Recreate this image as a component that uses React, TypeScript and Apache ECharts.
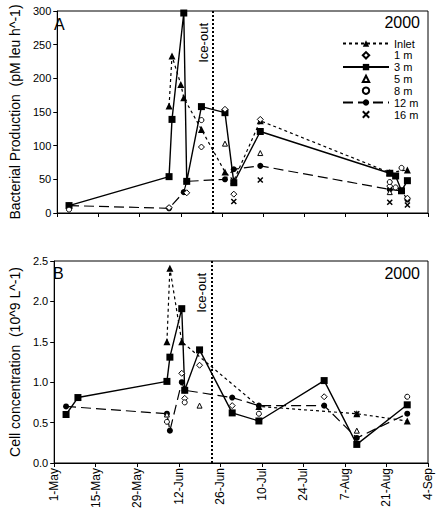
import React, { useEffect, useRef } from "react";
import * as echarts from "echarts";

// ---------- data ----------
const xTickLabels = ["1-May", "15-May", "29-May", "12-Jun", "26-Jun", "10-Jul", "24-Jul", "7-Aug", "21-Aug", "4-Sep"];
const iceOutDate = "06-23";
const yearLabel = "2000";

// Panel A: Bacterial production (pM leu h^-1)
const inletA: [string, number][] = [["06-08", 159], ["06-09", 233], ["06-12", 191], ["06-13", 171], ["06-19", 124], ["06-27", 61], ["06-30", 48], ["07-09", 137], ["08-22", 60], ["08-28", 64]];
const m1A: [string, number][] = [["06-08", 8], ["06-14", 30], ["06-19", 98], ["06-27", 154], ["06-30", 28], ["07-09", 139], ["08-22", 40], ["08-28", 22]];
const m3A: [string, number][] = [["05-05", 11], ["06-08", 54], ["06-09", 139], ["06-13", 297], ["06-14", 47], ["06-19", 158], ["06-27", 149], ["06-30", 45], ["07-09", 121], ["08-22", 59], ["08-24", 55], ["08-26", 33], ["08-28", 48]];
const m5A: [string, number][] = [["06-27", 103], ["07-09", 89], ["08-22", 31]];
const m8A: [string, number][] = [["05-05", 5], ["06-19", 138], ["08-22", 46], ["08-24", 38], ["08-26", 67]];
const m12A: [string, number][] = [["05-05", 11], ["06-08", 7], ["06-13", 31], ["06-14", 47], ["06-27", 50], ["06-30", 65], ["07-09", 70], ["08-22", 35], ["08-26", 33], ["08-28", 20]];
const m16A: [string, number][] = [["06-30", 17], ["07-09", 49], ["08-22", 16], ["08-28", 12]];

// Panel B: Cell concentration (10^9 L^-1)
const inletB: [string, number][] = [["06-08", 1.5], ["06-09", 2.41], ["06-13", 1.5], ["07-09", 0.7], ["08-11", 0.61], ["08-28", 0.52]];
const m1B: [string, number][] = [["06-13", 1.11], ["06-14", 0.8], ["06-19", 1.21], ["06-30", 0.71], ["07-31", 0.82]];
const m3B: [string, number][] = [["05-05", 0.6], ["05-09", 0.81], ["06-08", 1.01], ["06-09", 1.31], ["06-13", 1.91], ["06-14", 0.9], ["06-19", 1.4], ["06-30", 0.62], ["07-09", 0.52], ["07-31", 1.02], ["08-11", 0.23], ["08-28", 0.72]];
const m5B: [string, number][] = [["06-08", 0.6], ["06-19", 0.71], ["08-11", 0.4]];
const m8B: [string, number][] = [["06-08", 0.51], ["06-14", 0.75], ["07-09", 0.61], ["08-28", 0.82]];
const m12B: [string, number][] = [["05-05", 0.7], ["06-08", 0.61], ["06-09", 0.4], ["06-13", 1.0], ["06-14", 0.9], ["06-30", 0.81], ["07-09", 0.71], ["07-31", 0.71], ["08-11", 0.31], ["08-28", 0.61]];
const m16B: [string, number][] = [["08-11", 0.61]];

const seriesNames = ["Inlet", "1 m", "3 m", "5 m", "8 m", "12 m", "16 m"];

// ---------- helpers ----------
const dayOf = (md: string) => {
  const [m, d] = md.split("-").map(Number);
  return (Date.UTC(2000, m - 1, d) - Date.UTC(2000, 4, 1)) / 864e5;
};
const toData = (arr: [string, number][]) => arr.map(([d, v]) => [dayOf(d), v]);

const FONT = "'Liberation Sans', Arial, Helvetica, sans-serif";
const BLACK = "#000";
const CROSS = "path://M0,0L10,10M10,0L0,10";

function buildSeries(grid: number, sets: [string, number][][]) {
  const [inlet, m1, m3, m5, m8, m12, m16] = sets;
  const base = { xAxisIndex: grid, yAxisIndex: grid, animation: false, type: "line", showAllSymbol: true };
  const open = { color: "#fff", borderColor: BLACK, borderWidth: 1 };
  // marker-only series: a line series whose connecting line is hidden
  const noLine = { color: BLACK, width: 0, opacity: 0 };
  return [
    {
      ...base, name: "Inlet", data: toData(inlet), symbol: "triangle", symbolSize: 7,
      itemStyle: { color: BLACK }, lineStyle: { color: BLACK, width: 1.2, type: [3, 3] }, z: 3,
    },
    {
      ...base, name: "3 m", data: toData(m3), symbol: "rect", symbolSize: 7,
      itemStyle: { color: BLACK }, lineStyle: { color: BLACK, width: 1.4, type: "solid" }, z: 4,
      markLine: {
        silent: true, symbol: ["none", "none"], animation: false,
        lineStyle: { type: [2, 2], color: BLACK, width: 2 },
        label: {
          show: true, formatter: "Ice-out", position: "insideEndTop", fontSize: 13, color: BLACK,
          fontFamily: FONT, distance: 3, padding: [0, 9, 0, 0],
        },
        data: [{ xAxis: dayOf(iceOutDate) }],
      },
    },
    {
      ...base, name: "12 m", data: toData(m12), symbol: "circle", symbolSize: 6,
      itemStyle: { color: BLACK }, lineStyle: { color: BLACK, width: 1.2, type: [10, 5] }, z: 3,
    },
    { ...base, name: "1 m", data: toData(m1), symbol: "diamond", symbolSize: 6, itemStyle: open, lineStyle: noLine, z: 5 },
    { ...base, name: "5 m", data: toData(m5), symbol: "triangle", symbolSize: 5, itemStyle: open, lineStyle: noLine, z: 5 },
    { ...base, name: "8 m", data: toData(m8), symbol: "circle", symbolSize: 5, itemStyle: open, lineStyle: noLine, z: 5 },
    {
      ...base, name: "16 m", data: toData(m16), symbol: CROSS, symbolSize: 5,
      itemStyle: { color: "none", borderColor: BLACK, borderWidth: 1.5 }, lineStyle: noLine, z: 5,
    },
  ];
}

export default function App() {
  const ref = useRef<HTMLDivElement>(null);
  useEffect(() => {
    document.body.style.margin = "0";
    if (!ref.current) return;
    const chart = echarts.init(ref.current, null, { renderer: "svg" });
    const grids = [
      { left: 49, top: 11, width: 379, height: 202 },
      { left: 49, top: 261, width: 379, height: 202 },
    ];
    const xAxes = [0, 1].map((i) => ({
      gridIndex: i, type: "value", min: 0, max: 126, interval: 14,
      axisLine: { show: true, onZero: false, lineStyle: { color: BLACK, width: 1 } },
      axisTick: { show: true, length: 4, lineStyle: { color: BLACK } },
      splitLine: { show: false },
      axisLabel: i === 1
        ? { show: true, rotate: 90, fontSize: 12, color: BLACK, fontFamily: FONT, margin: 5, formatter: (v: number) => xTickLabels[Math.round(v / 14)] ?? "" }
        : { show: false },
    }));
    const yCommon = {
      type: "value", nameLocation: "middle", nameGap: 30,
      nameTextStyle: { fontSize: 14, color: BLACK, fontFamily: FONT },
      axisLine: { show: true, lineStyle: { color: BLACK, width: 1 } },
      axisTick: { show: true, length: 4, lineStyle: { color: BLACK } },
      splitLine: { show: false },
    };
    const yAxes = [
      { ...yCommon, gridIndex: 0, min: 0, max: 300, interval: 50, name: "Bacterial Production  (pM leu h^-1)",
        axisLabel: { fontSize: 11, color: BLACK, fontFamily: FONT, margin: 6 } },
      { ...yCommon, gridIndex: 1, min: 0, max: 2.5, interval: 0.5, name: "Cell concentration  (10^9 L^-1)",
        axisLabel: { fontSize: 11, color: BLACK, fontFamily: FONT, margin: 6, formatter: (v: number) => v.toFixed(1) } },
    ];
    const option = {
      animation: false,
      textStyle: { fontFamily: FONT },
      grid: grids.map((g) => ({ ...g, show: true, borderColor: BLACK, borderWidth: 1, backgroundColor: "transparent" })),
      xAxis: xAxes,
      yAxis: yAxes,
      legend: {
        orient: "vertical", left: 342, top: 38, padding: 0, itemGap: 0.8,
        itemWidth: 46, itemHeight: 8, data: seriesNames,
        textStyle: { fontSize: 11, color: BLACK, fontFamily: FONT, lineHeight: 11 },
        selectedMode: false,
      },
      graphic: [
        { type: "text", left: 54, top: 16, style: { text: "A", fontSize: 16, fill: BLACK, fontFamily: FONT } },
        { type: "text", right: 19, top: 14, style: { text: yearLabel, fontSize: 16, fill: BLACK, fontFamily: FONT } },
        { type: "text", left: 53, top: 265, style: { text: "B", fontSize: 16, fill: BLACK, fontFamily: FONT } },
        { type: "text", right: 19, top: 265, style: { text: yearLabel, fontSize: 16, fill: BLACK, fontFamily: FONT } },
      ],
      series: [
        ...buildSeries(0, [inletA, m1A, m3A, m5A, m8A, m12A, m16A]),
        ...buildSeries(1, [inletB, m1B, m3B, m5B, m8B, m12B, m16B]),
      ],
    };
    chart.setOption(option as any);
    return () => chart.dispose();
  }, []);
  return <div ref={ref} style={{ width: 439, height: 514, background: "#fff" }} />;
}
